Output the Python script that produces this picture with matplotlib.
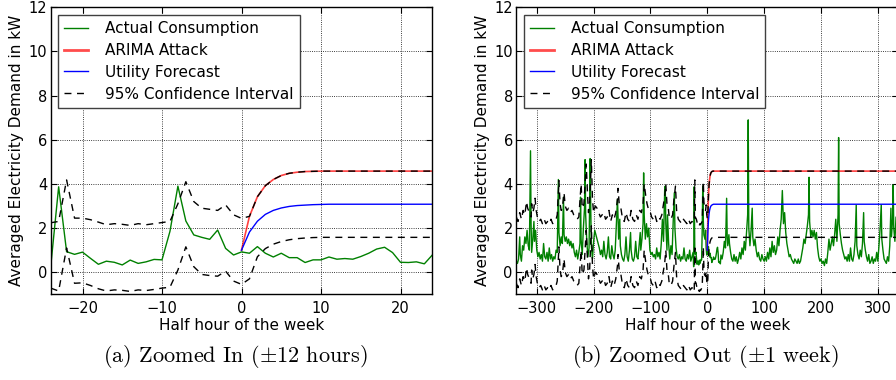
import numpy as np
import matplotlib
matplotlib.use("Agg")
import matplotlib.pyplot as plt

# ---------------- data: zoomed-in panel (half hours -24..24) ----------------
x_zoom = list(range(-24, 25))
actual_zoom = [0.25, 3.87, 0.93, 0.81, 0.91, 0.63, 0.36, 0.50, 0.45, 0.33, 0.55, 0.40, 0.47,
               0.58, 0.56, 1.85, 3.90, 2.32, 1.69, 1.58, 1.49, 1.91, 1.08, 0.78, 0.92,
               0.86, 1.16, 0.86, 0.69, 0.86, 0.66, 0.66, 0.44, 0.56, 0.56, 0.69, 0.59,
               0.62, 0.59, 0.71, 0.86, 1.05, 1.13, 0.89, 0.45, 0.44, 0.47, 0.38, 0.78]
ci_upper_zoom = [2.24, 2.30, 4.18, 2.45, 2.45, 2.38, 2.27, 2.15, 2.20, 2.17, 2.12, 2.20, 2.15,
                 2.20, 2.25, 2.30, 3.10, 4.10, 3.20, 2.90, 2.85, 2.80, 3.05, 2.60, 2.44,
                 2.53, 3.42, 3.92, 4.20, 4.38, 4.48, 4.53, 4.56, 4.57, 4.58, 4.58, 4.58,
                 4.58, 4.58, 4.58, 4.58, 4.58, 4.58, 4.58, 4.58, 4.58, 4.58, 4.58, 4.58]
ci_lower_zoom = [-0.72, -0.85, 1.10, -0.50, -0.48, -0.60, -0.75, -0.85, -0.80, -0.82, -0.87,
                 -0.80, -0.83, -0.78, -0.72, -0.68, 0.10, 1.15, 0.25, -0.10, -0.15, -0.18,
                 0.05, -0.40, -0.55,
                 -0.30, 0.70, 1.07, 1.27, 1.39, 1.47, 1.52, 1.55, 1.57, 1.58, 1.58, 1.58,
                 1.58, 1.58, 1.58, 1.58, 1.58, 1.58, 1.58, 1.58, 1.58, 1.58, 1.58, 1.58]
x_fc = list(range(0, 25))
attack_fc = [1.00, 2.53, 3.42, 3.92, 4.20, 4.38, 4.48, 4.53, 4.56, 4.57, 4.58, 4.58, 4.58,
             4.58, 4.58, 4.58, 4.58, 4.58, 4.58, 4.58, 4.58, 4.58, 4.58, 4.58, 4.58]
utility_fc = [1.00, 1.82, 2.31, 2.62, 2.80, 2.91, 2.98, 3.02, 3.04, 3.06, 3.07, 3.08, 3.08,
              3.08, 3.08, 3.08, 3.08, 3.08, 3.08, 3.08, 3.08, 3.08, 3.08, 3.08, 3.08]

# ---------------- data: zoomed-out panel (outside -24..24) ----------------
x_week_before = [-336, -334, -332, -330, -329, -327, -325, -323, -321, -319, -317, -315, -313,
                 -311, -310, -309, -307, -305, -304, -302, -300, -298, -296, -294, -292, -290,
                 -288, -286, -284, -282, -280, -278, -276, -274, -272, -270, -268, -266, -264,
                 -262, -261, -259, -257, -255, -253, -252, -250, -248, -246, -244, -242, -240,
                 -238, -236, -234, -232, -230, -228, -226, -224, -223, -222, -220, -218, -216,
                 -215, -214, -212, -210, -208, -206, -205, -204, -202, -200, -198, -196, -194,
                 -192, -190, -188, -186, -184, -182, -180, -178, -176, -174, -172, -170, -168,
                 -166, -164, -162, -160, -158, -157, -156, -154, -153, -151, -149, -147, -145,
                 -143, -141, -139, -137, -135, -134, -132, -130, -128, -126, -124, -122, -120,
                 -118, -117, -115, -113, -112, -111, -109, -107, -105, -103, -101, -99, -97,
                 -95, -93, -91, -89, -87, -85, -83, -81, -79, -77, -75, -74, -73, -71, -70,
                 -68, -66, -64, -62, -60, -58, -57, -55, -53, -51, -49, -47, -45, -43, -41,
                 -39, -37, -35, -33, -31, -29, -27, -25]
actual_week_before = [0.5, 0.4, 0.6, 1.6, 0.8, 0.5, 1.2, 1.0, 1.6, 1.3, 1.9, 1.2, 1.0,
                      5.5, 2.2, 0.9, 1.5, 2.3, 1.4, 1.9, 1.0, 0.7, 0.9, 0.6, 0.8, 0.5,
                      1.3, 0.7, 0.6, 0.9, 0.5, 1.1, 0.6, 0.8, 0.5, 0.7, 0.6, 1.0, 0.9,
                      4.2, 1.8, 1.2, 1.6, 1.3, 3.4, 1.7, 1.4, 1.6, 1.3, 1.5, 1.2, 1.4,
                      1.1, 1.3, 0.9, 0.7, 1.0, 0.6, 0.9, 1.3, 3.4, 1.5, 0.8, 2.0, 2.9,
                      5.1, 2.6, 1.4, 0.7, 1.1, 5.15, 2.8, 1.2, 0.6, 1.4, 1.9, 1.7, 1.5,
                      1.3, 1.1, 0.8, 1.0, 0.7, 1.4, 0.8, 0.6, 0.9, 1.6, 0.7, 0.6, 1.2,
                      0.8, 0.6, 1.0, 2.2, 3.3, 2.5, 1.5, 2.4, 1.2, 0.8, 0.6, 0.5, 0.8,
                      1.6, 0.7, 0.5, 1.0, 1.8, 1.0, 0.6, 0.5, 0.7, 1.4, 0.7, 0.6, 1.2,
                      1.8, 1.0, 1.5, 2.2, 4.5, 2.6, 1.5, 2.2, 1.6, 2.0, 1.0, 0.8, 0.9,
                      0.7, 0.8, 0.6, 1.1, 0.7, 0.9, 0.6, 1.3, 2.4, 1.4, 3.7, 3.9, 2.2, 1.0, 2.6,
                      1.3, 0.6, 1.2, 0.8, 2.3, 3.6, 2.0, 1.1, 0.7, 0.6, 0.8, 0.5, 0.7, 0.6, 1.1,
                      0.6, 0.5, 0.8, 0.6, 1.0, 0.5, 0.7, 0.9]
x_week_after = [26, 28, 30, 32, 34, 35, 36, 38, 39, 41, 43, 45, 47, 49, 51, 53, 55, 57, 59,
                61, 63, 65, 67, 69, 71, 72, 73, 75, 77, 79, 80, 82, 84, 86, 88, 90, 92, 94,
                96, 98, 100, 102, 104, 106, 108, 110, 112, 114, 116, 118, 120, 122, 124, 126,
                128, 130, 132, 134, 136, 138, 140, 142, 144, 146, 148, 150, 152, 154, 156,
                158, 160, 162, 164, 166, 168, 170, 172, 174, 176, 178, 179, 180, 182, 184,
                186, 188, 190, 192, 194, 196, 198, 200, 202, 204, 206, 208, 210, 212, 214,
                216, 218, 220, 222, 224, 226, 228, 230, 231, 232, 234, 236, 238, 240, 242,
                244, 246, 248, 250, 252, 254, 256, 258, 260, 262, 263, 265, 267, 269, 271,
                273, 275, 276, 278, 280, 282, 284, 286, 288, 290, 292, 294, 296, 298, 300,
                302, 304, 306, 307, 309, 311, 313, 315, 317, 319, 321, 323, 324, 326, 327,
                328, 330, 332, 334, 336]
actual_week_after = [0.6, 0.9, 1.4, 1.1, 3.35, 1.6, 1.2, 1.7, 1.3, 0.9, 0.6, 0.5, 0.8, 0.5,
                     0.7, 0.4, 0.6, 0.9, 0.6, 1.1, 0.8, 1.4, 1.0, 1.8, 2.6, 6.9, 2.0, 1.2,
                     1.9, 2.9, 1.6, 1.2, 1.5, 1.0, 0.7, 0.9, 0.6, 0.5, 0.8, 0.6, 0.5, 0.7,
                     0.5, 0.9, 0.6, 1.1, 0.7, 1.4, 0.9, 1.2, 0.8, 1.0, 1.6, 1.2, 1.9, 2.4,
                     3.7, 2.2, 2.7, 1.8, 1.3, 1.0, 0.7, 0.8, 0.6, 0.5, 0.4, 0.6, 0.5, 0.4,
                     0.6, 0.4, 0.5, 0.8, 1.1, 1.5, 1.3, 1.7, 2.1, 2.6, 4.3, 2.3, 1.6, 1.9,
                     1.6, 1.9, 1.5, 1.8, 1.1, 0.7, 0.5, 0.6, 0.4, 0.5, 0.3, 0.6, 0.4, 0.9,
                     1.5, 1.0, 1.3, 1.6, 1.2, 1.7, 2.4, 1.4, 2.6, 6.1, 2.2, 1.7, 1.3, 1.0,
                     0.8, 0.6, 0.7, 0.5, 0.8, 0.5, 1.1, 0.6, 0.5, 0.8, 1.4, 3.05, 1.2, 0.8,
                     0.6, 1.0, 0.7, 1.3, 2.7, 1.4, 1.0, 0.7, 0.5, 0.8, 0.4, 0.5, 0.7, 0.4,
                     0.6, 0.5, 0.9, 0.5, 1.2, 2.0, 3.05, 1.5, 1.0, 0.6, 0.5, 0.4, 0.7, 0.5,
                     1.2, 2.9, 1.6, 2.4, 3.95, 2.0, 1.4, 2.5, 1.8, 3.1]
# one-step-ahead utility forecast (centre of the 95% band) before the zoom window
x_fcast_before = [-336, -333, -330, -327, -324, -321, -318, -316, -313, -310, -309, -307, -305,
                  -303, -301, -299, -296, -293, -290, -287, -284, -281, -278, -275, -272, -269,
                  -266, -264, -261, -259, -257, -255, -252, -250, -247, -244, -241, -238, -235,
                  -232, -229, -226, -222, -220, -217, -213, -211, -209, -207, -204, -202, -200,
                  -197, -194, -191, -188, -185, -182, -179, -176, -173, -170, -167, -164, -161,
                  -158, -157, -155, -152, -149, -146, -143, -140, -137, -134, -131, -128, -125,
                  -122, -119, -116, -113, -111, -108, -106, -104, -101, -98, -95, -92, -89, -86,
                  -83, -80, -77, -75, -73, -71, -69, -67, -64, -61, -59, -56, -54, -51, -48,
                  -45, -42, -39, -36, -33, -30, -27, -25]
fcast_before = [1.0, 0.8, 1.2, 0.9, 1.3, 1.1, 1.7, 1.4, 1.2, 1.0, 1.6, 1.2, 1.4,
                1.85, 1.3, 1.0, 0.8, 0.9, 0.7, 0.9, 0.7, 0.8, 0.7, 0.9, 0.7, 0.8,
                0.9, 1.1, 2.65, 1.6, 1.3, 1.4, 2.1, 1.5, 1.3, 1.4, 1.2, 1.3, 1.1,
                1.0, 0.9, 1.0, 2.5, 1.4, 1.6, 3.4, 2.2, 1.2, 1.6, 3.6, 1.8, 1.2,
                1.5, 1.4, 1.2, 1.0, 1.1, 1.2, 0.9, 1.0, 1.3, 0.8, 1.1, 0.9, 1.2,
                1.8, 2.3, 1.6, 1.4, 0.9, 0.8, 1.2, 0.9, 0.8, 1.3, 0.9, 0.8, 1.1,
                0.9, 1.3, 1.2, 1.6, 2.5, 1.9, 1.6, 1.4, 1.3, 1.0, 0.9, 1.1, 0.8, 1.0,
                0.9, 1.1, 1.6, 1.9, 2.5, 1.6, 1.5, 1.0, 0.9, 1.1, 1.7, 2.4, 1.3, 0.9, 0.8,
                0.7, 0.9, 0.8, 0.7, 0.9, 0.7, 0.8, 0.75]
ci_half_width = 1.5
x_week_end = 336
attack_level = 4.58
utility_level = 3.08
ci_lower_level = 1.58

labels = ["Actual Consumption", "ARIMA Attack", "Utility Forecast", "95% Confidence Interval"]
captions = [r"(a) Zoomed In ($\pm$12 hours)", r"(b) Zoomed Out ($\pm$1 week)"]
ylabel = "Averaged Electricity Demand in kW"
xlabel = "Half hour of the week"

# ---------------- style ----------------
plt.rcParams.update({
    "font.family": "DejaVu Sans",
    "font.size": 11,
    "xtick.labelsize": 10.5,
    "ytick.labelsize": 10.5,
    "mathtext.fontset": "cm",
    "xtick.direction": "in",
    "ytick.direction": "in",
    "xtick.top": True,
    "ytick.right": True,
    "xtick.major.size": 4,
    "ytick.major.size": 4,
    "xtick.major.pad": 4.5,
    "ytick.major.pad": 2.5,
    "axes.linewidth": 1.0,
})

GREEN = (0.0, 0.5, 0.0)
RED = (1.0, 0.0, 0.0)
BLUE = (0.0, 0.0, 1.0)
DASH = (0, (5, 4))

fig = plt.figure(figsize=(8.96, 3.80), dpi=100)
ax1 = fig.add_axes([50.7 / 896, 1 - 294.3 / 380, 381.6 / 896, 287.0 / 380])
ax2 = fig.add_axes([516.3 / 896, 1 - 294.3 / 380, 382.0 / 896, 287.0 / 380])

# week-long series assembled from the pieces
x_week_actual = x_week_before + x_zoom + x_week_after
y_week_actual = actual_week_before + actual_zoom + actual_week_after
fb = np.array(fcast_before)
x_week_ci = x_fcast_before + x_zoom + [x_week_end]
up_week = list(fb + ci_half_width) + ci_upper_zoom + [attack_level]
lo_week = list(fb - ci_half_width) + ci_lower_zoom + [ci_lower_level]
x_week_fc = x_fc + [x_week_end]
att_week = attack_fc + [attack_level]
util_week = utility_fc + [utility_level]


def draw(ax, xa, ya, xf, att, util, xc, up, lo):
    h1, = ax.plot(xa, ya, color=GREEN, lw=1.0)
    h2, = ax.plot(xf, att, color=RED, lw=1.2, alpha=0.75)
    h3, = ax.plot(xf, util, color=BLUE, lw=1.0)
    h4, = ax.plot(xc, up, color="k", lw=1.0, ls=DASH)
    ax.plot(xc, lo, color="k", lw=1.0, ls=DASH)
    ax.set_ylim(-1, 12)
    ax.set_yticks([0, 2, 4, 6, 8, 10, 12])
    ax.grid(True, color="k", ls=":", lw=0.6)
    ax.set_ylabel(ylabel, labelpad=3)
    ax.set_xlabel(xlabel, labelpad=2)
    h2l = plt.Line2D([], [], color=RED, lw=2.0, alpha=0.7)
    leg = ax.legend([h1, h2l, h3, h4], labels, loc="upper left", fancybox=False,
                    framealpha=1.0, edgecolor="0.25", handlelength=1.55,
                    handletextpad=1.1, borderpad=0.4, labelspacing=0.45,
                    borderaxespad=0.5)
    leg.get_frame().set_linewidth(1.0)


draw(ax1, x_zoom, actual_zoom, x_fc, attack_fc, utility_fc, x_zoom, ci_upper_zoom, ci_lower_zoom)
ax1.set_xlim(-24, 24)
ax1.set_xticks([-20, -10, 0, 10, 20])

draw(ax2, x_week_actual, y_week_actual, x_week_fc, att_week, util_week, x_week_ci, up_week, lo_week)
ax2.set_xlim(-336, 336)
ax2.set_xticks([-300, -200, -100, 0, 100, 200, 300])

fig.text(235.5 / 896, 1 - 356 / 380, captions[0], ha="center", va="center",
         family="cmr10", fontsize=16)
fig.text(705 / 896, 1 - 356 / 380, captions[1], ha="center", va="center",
         family="cmr10", fontsize=16)

fig.savefig("out.png", dpi=100)
